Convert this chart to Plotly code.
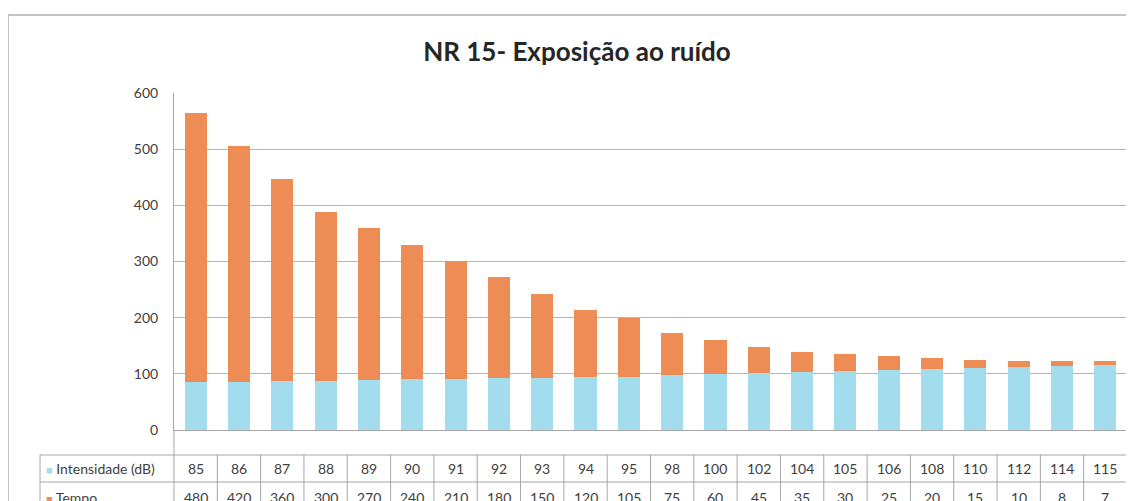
import plotly.graph_objects as go

# Data (NR 15 - noise exposure limits)
intensidade = [85, 86, 87, 88, 89, 90, 91, 92, 93, 94, 95, 98, 100, 102, 104, 105, 106, 108, 110, 112, 114, 115]
tempo = [480, 420, 360, 300, 270, 240, 210, 180, 150, 120, 105, 75, 60, 45, 35, 30, 25, 20, 15, 10, 8, 7]
series_names = ["Intensidade (dB)", "Tempo"]
y_ticks = [0, 100, 200, 300, 400, 500, 600]

COLOR_BLUE = "#a3dcec"
COLOR_ORANGE = "#ee8c56"
COLOR_GRID = "#b5b5b5"
COLOR_LINE = "#a6a6a6"
COLOR_TEXT = "#404040"
FONT = "Lato, 'Open Sans', sans-serif"

W, H = 1134, 501
OFF = 8  # page body margin
# plot area in screen pixels
SX0, SX1, SY0, SY1 = 174, 1127, 93, 430
L, R, T, B = SX0 - OFF, W - (SX1 - OFF), SY0 - OFF, H - (SY1 - OFF)
PW, PH = W - L - R, H - T - B

def px_x(p):
    # screen pixel -> paper x
    return (p - SX0) / PW

def px_y(p):
    # screen pixel -> paper y
    return (SY1 - p) / PH

idx = list(range(len(intensidade)))

fig = go.Figure()
fig.add_trace(go.Bar(x=idx, y=intensidade, name=series_names[0],
                     marker=dict(color=COLOR_BLUE, line=dict(width=0))))
fig.add_trace(go.Bar(x=idx, y=tempo, name=series_names[1],
                     marker=dict(color=COLOR_ORANGE, line=dict(width=0))))

shapes = []
line = dict(color=COLOR_LINE, width=1)

# outer chart border
shapes.append(dict(type="rect", xref="paper", yref="paper",
                   x0=px_x(8), x1=px_x(1160), y0=px_y(530), y1=px_y(15),
                   line=dict(color="#b0b0b0", width=1.5), layer="below"))

# data table lines
for yy in [455, 482, 510]:
    shapes.append(dict(type="line", xref="paper", yref="paper",
                       x0=px_x(40), x1=1, y0=px_y(yy), y1=px_y(yy), line=line))
shapes.append(dict(type="line", xref="paper", yref="paper",
                   x0=px_x(40), x1=px_x(40), y0=px_y(455), y1=px_y(530), line=line))
for xx in [0, 1]:
    shapes.append(dict(type="line", xref="paper", yref="paper",
                       x0=xx, x1=xx, y0=0, y1=px_y(530), line=line))
# column separators aligned to the categories
for i in idx[1:]:
    shapes.append(dict(type="line", xref="x", yref="paper",
                       x0=i - 0.5, x1=i - 0.5, y0=px_y(455), y1=px_y(530), line=line))

annotations = []
for i, (a, b) in enumerate(zip(intensidade, tempo)):
    annotations.append(dict(x=i, y=px_y(469), xref="x", yref="paper", text=str(a),
                            xanchor="center", yanchor="middle",
                            showarrow=False, font=dict(size=14, color=COLOR_TEXT)))
    annotations.append(dict(x=i, y=px_y(497), xref="x", yref="paper", text=str(b),
                            xanchor="center", yanchor="middle",
                            showarrow=False, font=dict(size=14, color=COLOR_TEXT)))

for name, color, yy in [(series_names[0], COLOR_BLUE, 469), (series_names[1], COLOR_ORANGE, 497)]:
    annotations.append(dict(x=px_x(44), y=px_y(yy), xref="paper", yref="paper",
                            xanchor="left", yanchor="middle",
                            text=f'<span style="color:{color};font-size:11px">■</span> {name}',
                            showarrow=False, font=dict(size=14, color=COLOR_TEXT)))

fig.update_layout(
    width=W, height=H,
    barmode="stack", bargap=0.49,
    showlegend=False,
    paper_bgcolor="white", plot_bgcolor="white",
    font=dict(family=FONT, color=COLOR_TEXT),
    margin=dict(l=L, r=R, t=T, b=B),
    title=dict(text="<b>NR 15- Exposição ao ruído</b>", xref="container", x=(577 - OFF) / W,
               xanchor="center", y=1 - (52 - OFF) / H, yanchor="middle",
               font=dict(size=26, color="#262626", family=FONT)),
    shapes=shapes,
    annotations=annotations,
)
fig.update_xaxes(range=[-0.5, len(idx) - 0.5], showticklabels=False, showgrid=False,
                 showline=True, linecolor=COLOR_LINE, zeroline=False, fixedrange=True)
fig.update_yaxes(range=[0, 600], tickvals=y_ticks, showgrid=True, gridcolor=COLOR_GRID,
                 showline=True, linecolor=COLOR_LINE, zeroline=False, ticklabelstandoff=12,
                 tickfont=dict(size=14, color=COLOR_TEXT))

fig.write_html("out.html")
